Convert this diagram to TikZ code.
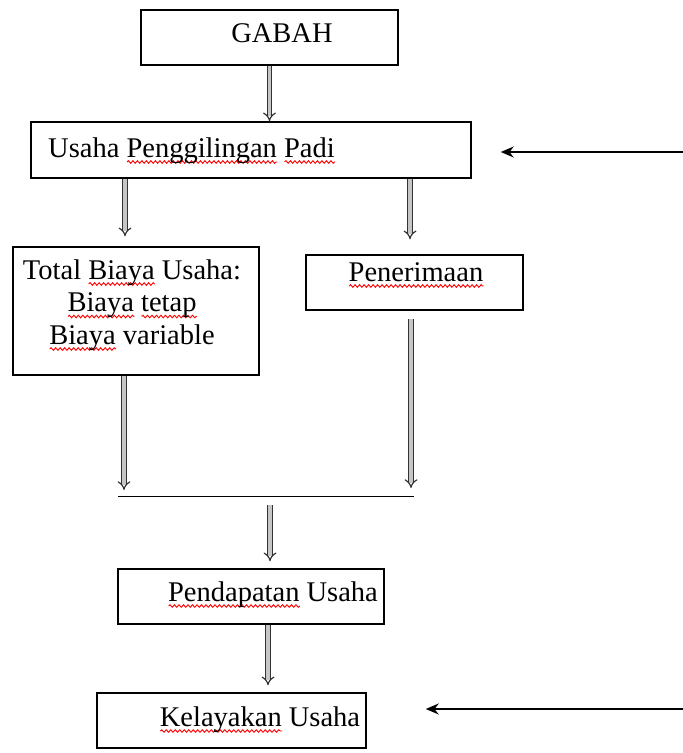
\documentclass[tikz,border=0pt]{standalone}
\usepackage{fontspec}
\setmainfont{Liberation Serif}
\usetikzlibrary{arrows.meta,decorations.pathmorphing}
\newsavebox\kata
\newcommand\salah[1]{\sbox\kata{#1}\rlap{\tikz[baseline=0pt,x=1pt,y=1pt]\draw[red,line width=.9pt,decorate,decoration={snake,amplitude=1.3pt,segment length=4.5pt}] (0,-5) -- (\wd\kata,-5);}\usebox\kata}

\begin{document}
\begin{tikzpicture}[x=1pt,y=-1pt,font=\fontsize{28.5}{32.5}\selectfont,
 kotak/.style={draw,line width=1.5pt,inner sep=0pt},
 dbl/.style={draw=black!80,double=gray!45,double distance=3.2pt,line width=1.2pt,-{Implies}},
 panah/.style={line width=1.4pt,-{Stealth[length=13pt,width=11pt]}}]
\useasboundingbox (0,0) rectangle (683,753);
% kotak
\node[kotak,minimum width=257pt,minimum height=55pt] (gabah) at (269.5,37.5) {};
\node[kotak,minimum width=440pt,minimum height=56pt] (usaha) at (251,150) {};
\node[kotak,minimum width=246pt,minimum height=128pt] (total) at (136,311) {};
\node[kotak,minimum width=217pt,minimum height=55pt] (pener) at (414.5,282.5) {};
\node[kotak,minimum width=266pt,minimum height=55pt] (pendap) at (251,596.5) {};
\node[kotak,minimum width=269pt,minimum height=55pt] (kelay) at (231.5,720.5) {};
% teks
\node[anchor=base] (tgabah) at (282,42) {GABAH};
\node[anchor=base west,inner sep=0pt] (tusaha) at (48,157) {Usaha \salah{Penggilingan} \salah{Padi}};
\node[align=center] (ttotal) at (132,305) {Total \salah{Biaya} Usaha:\\\salah{Biaya} \salah{tetap}\\\salah{Biaya} variable};
\node[anchor=base] (tpener) at (416,281) {\salah{Penerimaan}};
\node[anchor=base] (tpendap) at (273,601) {\salah{Pendapatan} Usaha};
\node[anchor=base] (tkelay) at (260,726) {\salah{Kelayakan} Usaha};
% garis gabung
\draw[line width=1pt] (118,496) coordinate (jl) -- (414,496) coordinate (jr);
\coordinate (r1) at (683,152);
\coordinate (r2) at (683,709);
% panah
\draw[dbl] (gabah.south) -- (gabah.south |- usaha.north);
\draw[dbl] ([xshift=-11pt]total.north |- usaha.south) -- ([xshift=-11pt,yshift=10pt]total.north);
\draw[dbl] ([xshift=-4.5pt]pener.north |- usaha.south) -- ([xshift=-4.5pt,yshift=15pt]pener.north);
\draw[dbl] ([xshift=-12pt]total.south) -- ([xshift=-12pt,yshift=6pt]total.south |- jl);
\draw[dbl] ([xshift=-3.5pt,yshift=-8pt]pener.south) -- ([xshift=-3.5pt,yshift=8pt]pener.south |- jr);
\draw[dbl] ([xshift=19pt,yshift=-9pt]pendap.north |- jl) -- ([xshift=19pt,yshift=7pt]pendap.north);
\draw[dbl] ([xshift=17pt]pendap.south) -- ([xshift=17pt,yshift=7pt]pendap.south |- kelay.north);
\draw[panah] (r1) -- ([xshift=29pt]usaha.east |- r1);
\draw[panah] (r2) -- ([xshift=59pt]kelay.east |- r2);
\end{tikzpicture}
\end{document}
